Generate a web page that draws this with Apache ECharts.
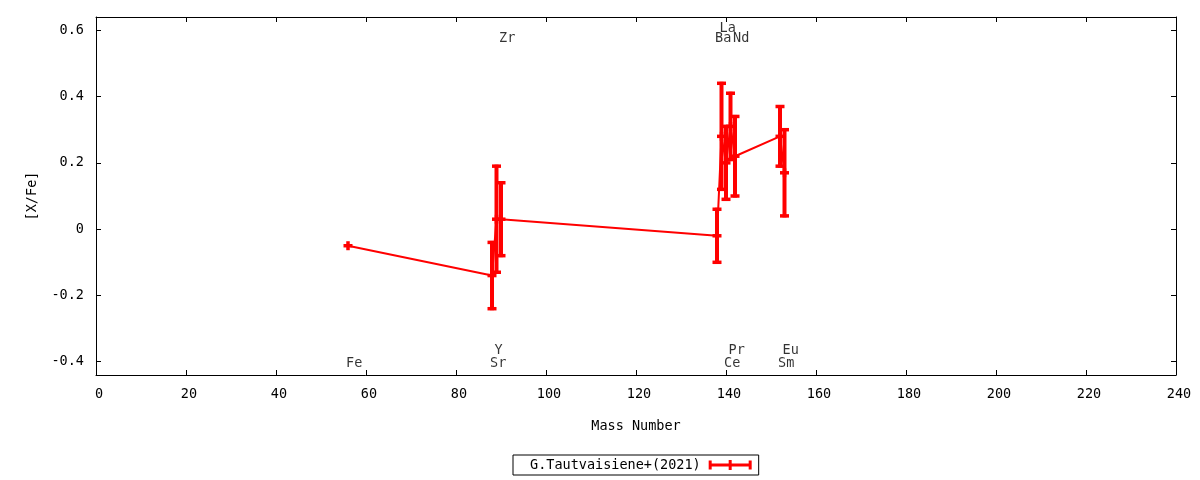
<!DOCTYPE html>
<html>
<head>
<meta charset="utf-8">
<script src="https://cdn.jsdelivr.net/npm/echarts@6/dist/echarts.min.js"></script>
<style>
html,body{margin:0;padding:0;background:#fff;}
#chart{width:1200px;height:480px;}
</style>
</head>
<body>
<div id="chart"></div>
<script>
// Data
const elements = ['Fe', 'Sr', 'Y', 'Zr', 'Ba', 'La', 'Ce', 'Pr', 'Nd', 'Sm', 'Eu'];
const massNumbers = [56, 88, 89, 90, 138, 139, 140, 141, 142, 152, 153];
const abundances = [-0.05, -0.14, 0.03, 0.03, -0.02, 0.28, 0.20, 0.31, 0.22, 0.28, 0.17];
const errors = [0.00, 0.10, 0.16, 0.11, 0.08, 0.16, 0.11, 0.10, 0.12, 0.09, 0.13];
const labelY = [-0.40, -0.40, -0.36, 0.58, 0.58, 0.61, -0.40, -0.36, 0.58, -0.40, -0.36];
const xTicks = [0, 20, 40, 60, 80, 100, 120, 140, 160, 180, 200, 220, 240];
const yTicks = [-0.4, -0.2, 0, 0.2, 0.4, 0.6];
const seriesName = 'G.Tautvaisiene+(2021)';

const FONT = 'DejaVu Sans Mono';
const RED = '#ff0000';

const lineData = massNumbers.map((m, i) => [m, abundances[i]]);
const errData = massNumbers.map((m, i) => [m, abundances[i], abundances[i] - errors[i], abundances[i] + errors[i]]);
const labelData = massNumbers.map((m, i) => ({ value: [m, labelY[i]], name: elements[i] }));

const chart = echarts.init(document.getElementById('chart'), null, { renderer: 'canvas' });

function tickCfg(vals) {
  return { show: true, inside: true, length: 5, customValues: vals, lineStyle: { color: '#000', width: 1 } };
}
const lineCfg = { show: true, onZero: false, lineStyle: { color: '#000', width: 1 } };

chart.setOption({
  animation: false,
  backgroundColor: '#fff',
  grid: { left: 96, right: 24, top: 17, bottom: 105, containLabel: false },
  legend: {
    data: [{ name: seriesName, icon: 'path://M0,3.5H43V6.5H0Z M0,0.5H3V9.5H0Z M40,0.5H43V9.5H40Z M20,0H23V10H20Z' }],
    left: 513, top: 455,
    align: 'right',
    itemWidth: 43, itemHeight: 10,
    padding: [3, 7, 3, 17],
    borderColor: '#000', borderWidth: 1, borderRadius: 0,
    textStyle: { fontFamily: FONT, fontSize: 13.5, color: '#000', padding: [0, 3, 0, 0] }
  },
  xAxis: [
    {
      type: 'value', min: 0, max: 240, interval: 20, position: 'bottom',
      axisLine: lineCfg, splitLine: { show: false },
      name: 'Mass Number', nameLocation: 'middle', nameGap: 44,
      nameTextStyle: { fontFamily: FONT, fontSize: 13.5, color: '#000' },
      axisLabel: { show: true, margin: 12, fontFamily: FONT, fontSize: 13.5, color: '#000',
        customValues: xTicks, padding: [0, 0, 0, 6] },
      axisTick: tickCfg(xTicks)
    },
    {
      type: 'value', min: 0, max: 240, interval: 20, position: 'top',
      axisLine: lineCfg, splitLine: { show: false },
      axisLabel: { show: false },
      axisTick: tickCfg(xTicks)
    }
  ],
  yAxis: [
    {
      type: 'value', min: -0.44, max: 0.64, position: 'left',
      axisLine: lineCfg, splitLine: { show: false },
      name: '[X/Fe]', nameLocation: 'middle', nameGap: 57,
      nameTextStyle: { fontFamily: FONT, fontSize: 13.5, color: '#000' },
      axisLabel: { show: true, margin: 12, fontFamily: FONT, fontSize: 13.5, color: '#000',
        customValues: yTicks, formatter: v => String(v) },
      axisTick: tickCfg(yTicks)
    },
    {
      type: 'value', min: -0.44, max: 0.64, position: 'right',
      axisLine: lineCfg, splitLine: { show: false },
      axisLabel: { show: false },
      axisTick: tickCfg(yTicks)
    }
  ],
  series: [
    {
      name: seriesName,
      type: 'line',
      xAxisIndex: 0, yAxisIndex: 0,
      data: lineData,
      showSymbol: false,
      symbol: 'none',
      color: RED,
      lineStyle: { color: RED, width: 2 },
      z: 2
    },
    {
      name: 'errorbars',
      type: 'custom',
      xAxisIndex: 0, yAxisIndex: 0,
      data: errData,
      z: 3,
      renderItem: function (params, api) {
        const x = api.value(0), y = api.value(1), lo = api.value(2), hi = api.value(3);
        const pc = api.coord([x, y]);
        const pl = api.coord([x, lo]);
        const ph = api.coord([x, hi]);
        const hw = 4.5;
        const st = { stroke: RED, lineWidth: 3.5 };
        const children = [
          { type: 'line', shape: { x1: pc[0] - hw, y1: pc[1], x2: pc[0] + hw, y2: pc[1] }, style: st },
          { type: 'line', shape: { x1: pc[0], y1: pc[1] - 4.5, x2: pc[0], y2: pc[1] + 4.5 }, style: st }
        ];
        if (hi - lo > 0) {
          children.push(
            { type: 'line', shape: { x1: pc[0], y1: ph[1] - 1.5, x2: pc[0], y2: pl[1] + 1.5 }, style: { stroke: RED, lineWidth: 4 } },
            { type: 'line', shape: { x1: pc[0] - hw, y1: ph[1], x2: pc[0] + hw, y2: ph[1] }, style: st },
            { type: 'line', shape: { x1: pc[0] - hw, y1: pl[1], x2: pc[0] + hw, y2: pl[1] }, style: st }
          );
        }
        return { type: 'group', children: children };
      }
    },
    {
      name: 'labels',
      type: 'scatter',
      xAxisIndex: 0, yAxisIndex: 0,
      data: labelData,
      symbolSize: 0,
      silent: true,
      z: 4,
      label: {
        show: true,
        position: 'inside',
        align: 'left',
        verticalAlign: 'middle',
        offset: [-2, 2],
        formatter: p => p.name,
        fontFamily: FONT, fontSize: 13.5, color: '#000'
      }
    }
  ]
});
</script>
</body>
</html>
